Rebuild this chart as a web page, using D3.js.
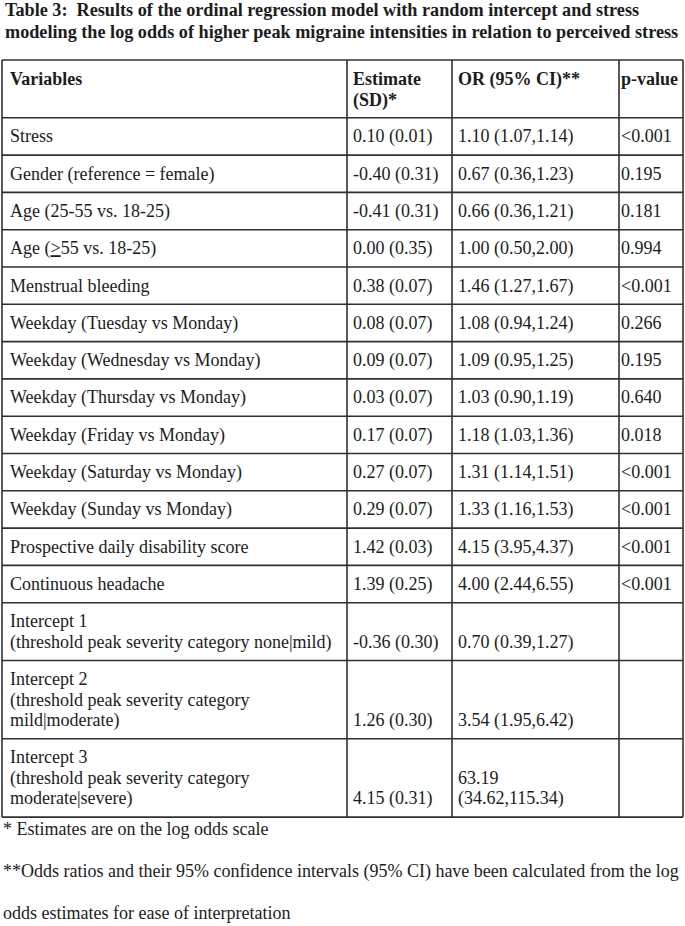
<!DOCTYPE html>
<html>
<head>
<meta charset="utf-8">
<script src="https://cdn.jsdelivr.net/npm/d3@7"></script>
<style>
  html, body { margin: 0; padding: 0; background: #fff; }
  svg { display: block; }
  text { white-space: pre; }
</style>
</head>
<body>
<svg id="chart" width="685" height="926"></svg>
<script>
// ---------- data ----------
const titleLines = [
  "Table 3:  Results of the ordinal regression model with random intercept and stress",
  "modeling the log odds of higher peak migraine intensities in relation to perceived stress"
];
const headers = [
  ["Variables"],
  ["Estimate", "(SD)*"],
  ["OR (95% CI)**"],
  ["p-value"]
];
const variables = [
  ["Stress"],
  ["Gender (reference = female)"],
  ["Age (25-55 vs. 18-25)"],
  ["Age (≥55 vs. 18-25)"],
  ["Menstrual bleeding"],
  ["Weekday (Tuesday vs Monday)"],
  ["Weekday (Wednesday vs Monday)"],
  ["Weekday (Thursday vs Monday)"],
  ["Weekday (Friday vs Monday)"],
  ["Weekday (Saturday vs Monday)"],
  ["Weekday (Sunday vs Monday)"],
  ["Prospective daily disability score"],
  ["Continuous headache"],
  ["Intercept 1", "(threshold peak severity category none|mild)"],
  ["Intercept 2", "(threshold peak severity category", "mild|moderate)"],
  ["Intercept 3", "(threshold peak severity category", "moderate|severe)"]
];
const estimates = [
  "0.10 (0.01)", "-0.40 (0.31)", "-0.41 (0.31)", "0.00 (0.35)", "0.38 (0.07)",
  "0.08 (0.07)", "0.09 (0.07)", "0.03 (0.07)", "0.17 (0.07)", "0.27 (0.07)",
  "0.29 (0.07)", "1.42 (0.03)", "1.39 (0.25)", "-0.36 (0.30)", "1.26 (0.30)", "4.15 (0.31)"
];
const oddsRatios = [
  ["1.10 (1.07,1.14)"], ["0.67 (0.36,1.23)"], ["0.66 (0.36,1.21)"], ["1.00 (0.50,2.00)"],
  ["1.46 (1.27,1.67)"], ["1.08 (0.94,1.24)"], ["1.09 (0.95,1.25)"], ["1.03 (0.90,1.19)"],
  ["1.18 (1.03,1.36)"], ["1.31 (1.14,1.51)"], ["1.33 (1.16,1.53)"], ["4.15 (3.95,4.37)"],
  ["4.00 (2.44,6.55)"], ["0.70 (0.39,1.27)"], ["3.54 (1.95,6.42)"], ["63.19", "(34.62,115.34)"]
];
const pValues = [
  "<0.001", "0.195", "0.181", "0.994", "<0.001", "0.266", "0.195", "0.640",
  "0.018", "<0.001", "<0.001", "<0.001", "<0.001", "", "", ""
];
const footnotes = [
  "* Estimates are on the log odds scale",
  "**Odds ratios and their 95% confidence intervals (95% CI) have been calculated from the log",
  "odds estimates for ease of interpretation"
];

// ---------- layout ----------
const W = 685;
const font = "'Liberation Serif', 'Times New Roman', serif";
const ink = "#1c1c1c";
const lineCol = "#303030";
const colEdges = [2, 347, 452, 619, 683];
const cellPad = [8, 6, 6, 2];
const tableTop = 60;
const lineH = 20.5;
const rowPad = 16.8;
const fs = 18;

const svg = d3.select("#chart");

// title
svg.append("g").selectAll("text").data(titleLines).join("text")
  .attr("x", 5)
  .attr("y", (d, i) => 16 + i * 22)
  .attr("font-family", font)
  .attr("font-weight", "bold")
  .attr("font-size", 18.2)
  .attr("fill", ink)
  .text(d => d);

// rows: heights from line counts
const rows = variables.map((v, i) => ({
  variable: v,
  est: estimates[i],
  or: oddsRatios[i],
  p: pValues[i],
  lines: Math.max(v.length, oddsRatios[i].length)
}));
const heights = [2, ...rows.map(r => r.lines)].map(n => rowPad + lineH * n);
const cum = d3.cumsum([0, ...heights]);
const y = d3.scaleLinear().domain([0, 1]).range([tableTop, tableTop + 1]);
const rowTop = i => y(cum[i]);
const tableBottom = rowTop(heights.length);
const x = d3.scaleLinear().domain([0, W]).range([0, W]);

// grid lines
const grid = svg.append("g").attr("stroke", lineCol).attr("stroke-width", 1.6).attr("fill", "none");
grid.selectAll("line.h").data(cum).join("line").attr("class", "h")
  .attr("x1", x(colEdges[0])).attr("x2", x(colEdges[colEdges.length - 1]))
  .attr("y1", d => y(d)).attr("y2", d => y(d));
grid.selectAll("line.v").data(colEdges).join("line").attr("class", "v")
  .attr("x1", d => x(d)).attr("x2", d => x(d))
  .attr("y1", tableTop).attr("y2", tableBottom);

const txt = svg.append("g").attr("font-family", font).attr("font-size", fs).attr("fill", ink);

// header
headers.forEach((lines, c) => {
  lines.forEach((t, k) => {
    txt.append("text")
      .attr("x", x(colEdges[c] + cellPad[c]))
      .attr("y", tableTop + 25 + k * 21)
      .attr("font-weight", "bold")
      .text(t);
  });
});

// body
rows.forEach((r, i) => {
  const top = rowTop(i + 1);
  const base = k => top + 24.5 + k * lineH;
  const last = r.lines - 1;
  r.variable.forEach((t, k) => {
    const el = txt.append("text").attr("x", x(colEdges[0] + cellPad[0])).attr("y", base(k));
    if (t.includes("≥")) {
      const parts = t.split("≥");
      el.append("tspan").text(parts[0]);
      el.append("tspan").attr("text-decoration", "underline").text(">");
      el.append("tspan").text(parts[1]);
    } else {
      el.text(t);
    }
  });
  txt.append("text").attr("x", x(colEdges[1] + cellPad[1])).attr("y", base(last)).text(r.est);
  const orStart = last - (r.or.length - 1);
  r.or.forEach((t, k) => {
    txt.append("text").attr("x", x(colEdges[2] + cellPad[2])).attr("y", base(orStart + k)).text(t);
  });
  if (r.p) txt.append("text").attr("x", x(colEdges[3] + cellPad[3])).attr("y", base(last)).text(r.p);
});

// footnotes
svg.append("g").selectAll("text").data(footnotes).join("text")
  .attr("x", 3)
  .attr("y", (d, i) => tableBottom + 18 + i * 42)
  .attr("font-family", font)
  .attr("font-size", fs)
  .attr("fill", ink)
  .text(d => d);
</script>
</body>
</html>
